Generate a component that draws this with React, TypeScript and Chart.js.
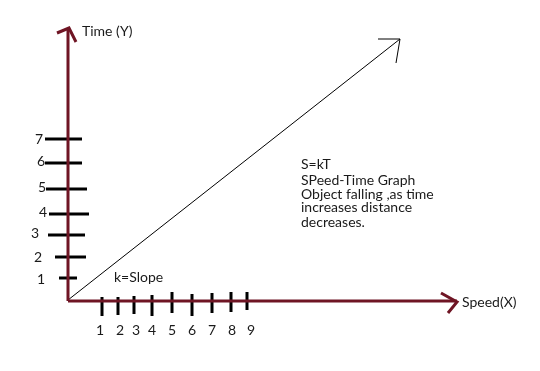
import React, { useEffect, useRef } from "react";
import { Chart, registerables } from "chart.js";

Chart.register(...registerables);

// Sketch coordinates, origin at the meeting of the two axes (units)
const X_MIN = -68;
const X_MAX = 472;
const Y_MIN = -70;
const Y_MAX = 301;

const MAROON = "#6f1524";
const INK = "#000000";
const TEXT = "#1a1a1a";
const FONT = "Lato, 'Open Sans', sans-serif";

// Axes
const yAxisTop = 272;
const xAxisEnd = 389;
const yArrowX = [-11, 1, 8];
const yArrowY = [268, 273, 259];
const xArrowX = [373, 389, 380];
const xArrowY = [8, -1, -12];

// Time (Y) ticks
const timeLabels = ["1", "2", "3", "4", "5", "6", "7"];
const timeTickPos = [23, 44, 66, 87, 112, 138, 162];
const timeTickLeft = [-9, -13, -20, -19, -22, -23, -23];
const timeTickRight = [9, 18, 17, 21, 19, 14, 14];
const timeLabelX = [-27, -30, -33, -25, -26, -27, -29];
const timeLabelY = [22, 44, 68, 89, 114, 140, 162];

// Speed (X) ticks
const speedLabels = ["1", "2", "3", "4", "5", "6", "7", "8", "9"];
const speedTickPos = [34, 50, 66, 84, 104, 124, 144, 163, 179];
const speedTickTop = [4, 4, 5, 6, 9, 7, 8, 9, 9];
const speedTickBottom = [-15, -14, -13, -15, -12, -15, -12, -11, -9];
const speedLabelX = [32, 52, 68, 84, 104, 124, 144, 164, 183];
const speedLabelY = -29;

// Diagonal slope line with arrow
const slopeX = [0, 332];
const slopeY = [1, 262];
const slopeArrowX = [310, 332, 328];
const slopeArrowY = [262, 262, 238];

// Notes
const noteLines = [
  "S=kT",
  "SPeed-Time Graph",
  "Object falling ,as time",
  "increases distance",
  "decreases.",
];
const noteX = 233;
const noteY = [137, 121, 107, 94, 79];

const texts = [
  { t: "Time (Y)", x: 14, y: 270, align: "left" },
  { t: "Speed(X)", x: 394, y: -1, align: "left" },
  { t: "k=Slope", x: 46, y: 24, align: "left" },
];

const pts = (xs: number[], ys: number[]) => xs.map((x, i) => ({ x, y: ys[i] }));

export default function App() {
  const ref = useRef<HTMLCanvasElement | null>(null);

  useEffect(() => {
    document.body.style.margin = "0";
    const canvas = ref.current;
    if (!canvas) return;

    const line = (data: { x: number; y: number }[], color: string, width: number) => ({
      data,
      borderColor: color,
      backgroundColor: color,
      borderWidth: width,
      pointRadius: 0,
      showLine: true,
      tension: 0,
      fill: false,
      borderCapStyle: "butt" as const,
      borderJoinStyle: "miter" as const,
    });

    const datasets: any[] = [
      line(pts([0, 0], [0, yAxisTop]), MAROON, 3),
      line(pts(yArrowX, yArrowY), MAROON, 3),
      line(pts([0, xAxisEnd], [0, 0]), MAROON, 3),
      line(pts(xArrowX, xArrowY), MAROON, 3),
      line(pts(slopeX, slopeY), INK, 1),
      line(pts(slopeArrowX, slopeArrowY), INK, 1),
      ...timeTickPos.map((y, i) => line(pts([timeTickLeft[i], timeTickRight[i]], [y, y]), INK, 3)),
      ...speedTickPos.map((x, i) => line(pts([x, x], [speedTickTop[i], speedTickBottom[i]]), INK, 3)),
    ];

    const textPlugin = {
      id: "sketchText",
      afterDatasetsDraw(chart: any) {
        const { ctx, scales } = chart;
        const sx = (v: number) => scales.x.getPixelForValue(v);
        const sy = (v: number) => scales.y.getPixelForValue(v);
        ctx.save();
        ctx.fillStyle = TEXT;
        ctx.font = `14px ${FONT}`;
        ctx.textBaseline = "middle";
        ctx.textAlign = "center";
        timeLabels.forEach((l, i) => ctx.fillText(l, sx(timeLabelX[i]), sy(timeLabelY[i])));
        speedLabels.forEach((l, i) => ctx.fillText(l, sx(speedLabelX[i]), sy(speedLabelY)));
        ctx.textAlign = "left";
        texts.forEach((o) => ctx.fillText(o.t, sx(o.x), sy(o.y)));
        noteLines.forEach((l, i) => ctx.fillText(l, sx(noteX), sy(noteY[i])));
        ctx.restore();
      },
    };

    const chart = new Chart(canvas, {
      type: "scatter",
      data: { datasets },
      options: {
        animation: false,
        responsive: false,
        devicePixelRatio: 1,
        layout: { padding: 0 },
        plugins: { legend: { display: false }, tooltip: { enabled: false } },
        scales: {
          x: { type: "linear", min: X_MIN, max: X_MAX, display: false },
          y: { type: "linear", min: Y_MIN, max: Y_MAX, display: false },
        },
      },
      plugins: [textPlugin],
    });
    return () => chart.destroy();
  }, []);

  return (
    <div style={{ width: 540, height: 371, background: "#fff" }}>
      <canvas ref={ref} width={540} height={371} style={{ display: "block" }} />
    </div>
  );
}
